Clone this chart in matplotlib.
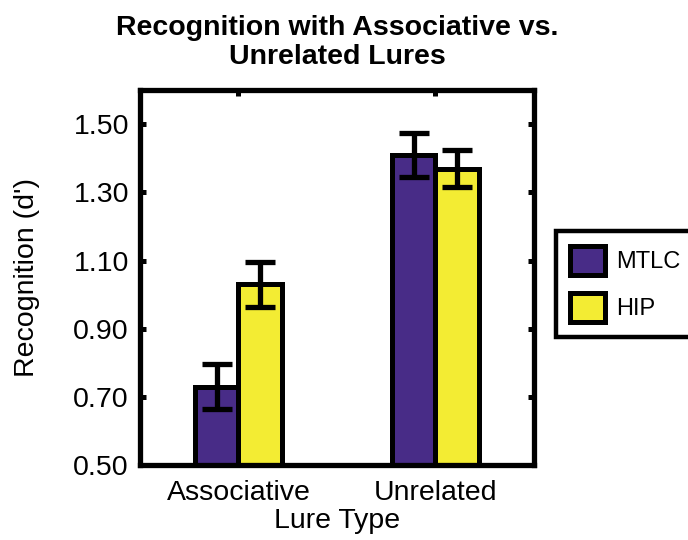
import numpy as np
import matplotlib
matplotlib.use("Agg")
import matplotlib.pyplot as plt

plt.rcParams['font.family'] = ['Liberation Sans', 'DejaVu Sans']

categories = ["Associative", "Unrelated"]
series_names = ["MTLC", "HIP"]
mtlc_vals = [0.73, 1.41]
hip_vals = [1.03, 1.37]
mtlc_err = [0.066, 0.065]
hip_err = [0.065, 0.053]
yticks = [0.50, 0.70, 0.90, 1.10, 1.30, 1.50]

colors = ["#482C87", "#F3EC33"]

fig = plt.figure(figsize=(6.88, 5.40), dpi=100)
ax = fig.add_axes([0.2035, 0.139, 0.5725, 0.694])

x = np.arange(1, len(categories) + 1)
w = 0.22
lw = 3.6
for vals, errs, col, off, name in [(mtlc_vals, mtlc_err, colors[0], -w / 2, series_names[0]),
                                   (hip_vals, hip_err, colors[1], w / 2, series_names[1])]:
    ax.bar(x + off, vals, width=w, color=col, edgecolor="black", linewidth=lw,
           label=name, zorder=2)
    ax.errorbar(x + off, vals, yerr=errs, fmt="none", ecolor="black",
                elinewidth=3.8, capsize=10.5, capthick=3.8, zorder=3)

ax.set_xlim(0.5, 2.5)
ax.set_ylim(0.5, 1.6)
ax.set_xticks(x)
ax.set_xticklabels(categories)
ax.set_yticks(yticks)
ax.set_yticklabels([f"{v:.2f}" for v in yticks])
ax.tick_params(direction="in", length=4, width=3.6, top=True, right=True,
               labelsize=20.5)
ax.tick_params(axis="x", pad=11)
ax.tick_params(axis="y", pad=8)
for s in ax.spines.values():
    s.set_linewidth(3.8)

ax.set_xlabel("Lure Type", fontsize=20.5, labelpad=1)
ax.set_ylabel("Recognition (d')", fontsize=20.5, labelpad=24)
ax.set_title("Recognition with Associative vs.\nUnrelated Lures", fontsize=20.5,
             fontweight="bold", linespacing=1.12, pad=19)

leg = ax.legend(loc="center left", bbox_to_anchor=(1.055, 0.483), fontsize=17,
                frameon=True, fancybox=False, edgecolor="black", framealpha=1,
                handlelength=1.5, handleheight=1.55, borderpad=0.6,
                labelspacing=0.75, handletextpad=0.45, borderaxespad=0)
leg.get_frame().set_linewidth(3.2)

fig.savefig("out.png", dpi=100)
